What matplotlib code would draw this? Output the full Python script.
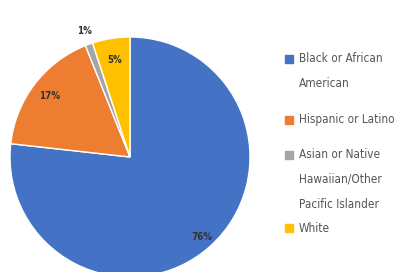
import matplotlib
matplotlib.use("Agg")
import matplotlib.pyplot as plt
from matplotlib.patches import Rectangle
import numpy as np

categories = ["Black or African\nAmerican", "Hispanic or Latino",
              "Asian or Native\nHawaiian/Other\nPacific Islander", "White"]
values = [76, 17, 1, 5]
pct_labels = ["76%", "17%", "1%", "5%"]
colors = ["#4472C4", "#ED7D31", "#A5A5A5", "#FFC000"]

W, H = 398, 272
fig = plt.figure(figsize=(W / 100, H / 100), dpi=100)
font = ["DejaVu Sans"]

# pie, slightly cut off at the bottom
ax = fig.add_axes([10 / W, (H - 277) / H, 240 / W, 240 / H])
wedges, _ = ax.pie(values, colors=colors, startangle=90, counterclock=False,
                   wedgeprops=dict(edgecolor="white", linewidth=1))
ax.set_xlim(-1, 1)
ax.set_ylim(-1, 1)

label_r = [0.9, 0.84, 1.12, 0.82]
for w, txt, r in zip(wedges, pct_labels, label_r):
    a = np.deg2rad((w.theta1 + w.theta2) / 2)
    ax.text(r * np.cos(a), r * np.sin(a), txt, ha="center", va="center",
            fontsize=7, fontweight="bold", color="#333333", family=font,
            fontstretch="condensed")

# legend drawn by hand so the marker sits on the first line
legend_y = [59, 120, 155, 228]
line_gap = 24.5
for cat, col, y in zip(categories, colors, legend_y):
    fig.patches.append(Rectangle(((W - 113) / W, (H - y - 4) / H), 8 / W, 8 / H,
                                 transform=fig.transFigure, color=col, figure=fig))
    for i, line in enumerate(cat.split("\n")):
        fig.text(299 / W, (H - y - i * line_gap) / H, line, ha="left", va="center",
                 fontsize=8.5, color="#555555", family=font, fontstretch="condensed")

fig.savefig("out.png", dpi=100)
